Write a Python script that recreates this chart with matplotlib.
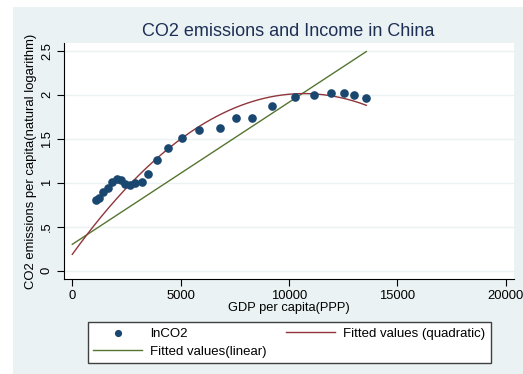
import numpy as np
import matplotlib.pyplot as plt
from matplotlib.patches import Rectangle

plt.rcParams['font.family'] = ['Liberation Sans', 'DejaVu Sans']

# GDP per capita (PPP) and log CO2 emissions per capita, China
gdp = [1077, 1247, 1431, 1631, 1846, 2046, 2246, 2446, 2646, 2907,
       3200, 3507, 3922, 4399, 5045, 5829, 6798, 7567, 8289, 9227,
       10288, 11165, 11919, 12549, 12980, 13564]
lnco2 = [0.80, 0.83, 0.89, 0.936, 1.004, 1.038, 1.03, 0.98, 0.974, 0.993,
         1.004, 1.099, 1.258, 1.394, 1.504, 1.603, 1.622, 1.735, 1.731, 1.875,
         1.970, 2.000, 2.019, 2.019, 1.997, 1.966]

# fitted coefficients (constant, x, x^2)
lin_coef = [0.30, 1.6146e-4]
quad_coef = [0.186, 3.4205e-4, -1.6015e-8]
fit_range = [0, 13564]

x_ticks = [0, 5000, 10000, 15000, 20000]
y_ticks = [0, 0.5, 1, 1.5, 2, 2.5]
y_tick_labels = ['0', '.5', '1', '1.5', '2', '2.5']

xfit = np.linspace(fit_range[0], fit_range[1], 200)
lin = lin_coef[0] + lin_coef[1] * xfit
quad = quad_coef[0] + quad_coef[1] * xfit + quad_coef[2] * xfit ** 2

navy = '#1a476f'
maroon = '#90353b'
olive = '#55752f'
panel = '#eaf2f3'

fig = plt.figure(figsize=(5.23, 3.74), dpi=100, facecolor='white')
fig.patches.append(Rectangle((13 / 523, 0), 1, 1 - 7 / 374, transform=fig.transFigure,
                             facecolor=panel, edgecolor='none', zorder=-10))

ax = fig.add_axes([64 / 523, 1 - 279 / 374, 450 / 523, 236 / 374])
ax.set_facecolor('white')

ax.scatter(gdp, lnco2, s=27, color=navy, zorder=3, label='lnCO2')
ax.plot(xfit, lin, color=olive, lw=1.0, zorder=2, label='Fitted values(linear)')
ax.plot(xfit, quad, color=maroon, lw=1.0, zorder=2, label='Fitted values (quadratic)')

ax.set_xlim(-383, 20375)
ax.set_ylim(-0.094, 2.587)
ax.set_xticks(x_ticks)
ax.set_yticks(y_ticks)
ax.set_yticklabels(y_tick_labels, rotation=90, va='center')
ax.tick_params(axis='both', labelsize=9.4, length=5, width=0.8, color='black', pad=3)
ax.grid(axis='y', color=panel, lw=1.0)
ax.set_axisbelow(True)
for side in ['top', 'right']:
    ax.spines[side].set_visible(False)
for side in ['left', 'bottom']:
    ax.spines[side].set_linewidth(0.8)

ax.set_xlabel('GDP per capita(PPP)', fontsize=9.3, labelpad=0)
ax.set_ylabel('CO2 emissions per capita(natural logarithm)', fontsize=9.4, labelpad=3)
fig.text(288 / 523, 1 - 31 / 374, 'CO2 emissions and Income in China',
         ha='center', va='center', fontsize=13, color='#1e2f55')

leg = fig.legend(loc='center', bbox_to_anchor=(289.4 / 523, 1 - 342.5 / 374), ncol=2,
                 fontsize=9.5, frameon=True, fancybox=False, edgecolor='#404040',
                 framealpha=1, facecolor='white', markerscale=0.8,
                 handlelength=3.7, handletextpad=0.6, columnspacing=1.5,
                 borderpad=0.4, labelspacing=0.45)
leg.get_frame().set_linewidth(1.0)

fig.savefig('out.png', dpi=100, facecolor='white')
